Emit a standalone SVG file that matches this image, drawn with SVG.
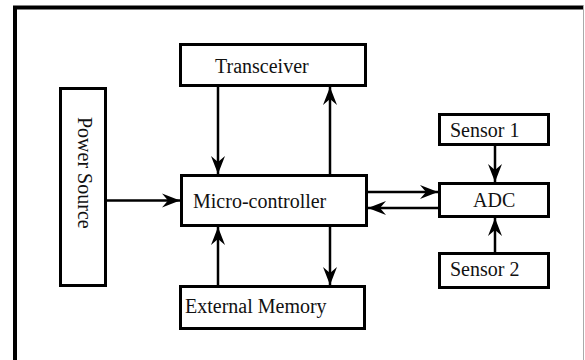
<svg xmlns="http://www.w3.org/2000/svg" width="585" height="360" viewBox="0 0 585 360">
<style>
.box{fill:#fff;stroke:#000;stroke-width:3}
.lbl{font-family:"Liberation Serif","Times New Roman",serif;font-size:20px;fill:#111}
.conn{stroke:#000;stroke-width:2.5;fill:none;marker-end:url(#ah)}
</style>
<defs>
<marker id="ah" markerUnits="userSpaceOnUse" markerWidth="22" markerHeight="18" refX="18" refY="8" orient="auto" viewBox="0 0 22 18">
<path d="M18,8 L0,1 L6,8 L0,15 Z" fill="#000"/>
</marker>
</defs>
<rect width="585" height="360" fill="#fff"/>
<g id="frame">
<path d="M15,360 L15,7.5 L583,7.5" fill="none" stroke="#000" stroke-width="4"/>
<line x1="583.5" y1="5" x2="583.5" y2="360" stroke="#aaa" stroke-width="1"/>
</g>
<g id="connectors">
<path class="conn" d="M107,200.5 L180,200.5"/>
<path class="conn" d="M218,87 L218,174"/>
<path class="conn" d="M330,174 L330,87"/>
<path class="conn" d="M218,285 L218,227"/>
<path class="conn" d="M330,227 L330,285"/>
<path class="conn" d="M368,192 L438,192"/>
<path class="conn" d="M438,208 L368,208"/>
<path class="conn" d="M495,146 L495,182"/>
<path class="conn" d="M495,252 L495,218"/>
</g>
<g id="power-source">
<rect class="box" x="60.5" y="88.5" width="45" height="197"/>
<text class="lbl" transform="translate(78,117) rotate(90)">Power Source</text>
</g>
<g id="transceiver">
<rect class="box" x="180.5" y="44.5" width="185" height="41"/>
<text class="lbl" x="215" y="73">Transceiver</text>
</g>
<g id="micro-controller">
<rect class="box" x="181.5" y="175.5" width="185" height="50"/>
<text class="lbl" x="193" y="208">Micro-controller</text>
</g>
<g id="external-memory">
<rect class="box" x="180.5" y="286.5" width="184" height="42"/>
<text class="lbl" x="185" y="313">External Memory</text>
</g>
<g id="adc">
<rect class="box" x="439.5" y="183.5" width="109" height="33"/>
<text class="lbl" x="473" y="207">ADC</text>
</g>
<g id="sensor1">
<rect class="box" x="439.5" y="114.5" width="109" height="30"/>
<text class="lbl" x="450" y="137">Sensor 1</text>
</g>
<g id="sensor2">
<rect class="box" x="439.5" y="253.5" width="109" height="34"/>
<text class="lbl" x="450" y="276">Sensor 2</text>
</g>
</svg>
